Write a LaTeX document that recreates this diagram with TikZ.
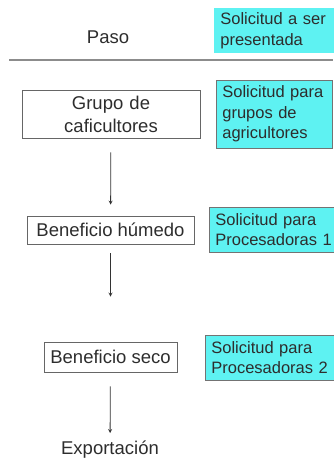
\documentclass[tikz,border=0pt]{standalone}
\usepackage{fontspec}
\setmainfont{Liberation Sans}
\usepackage{xcolor}
\usetikzlibrary{shapes,arrows,positioning,calc}
\definecolor{solcyan}{RGB}{94,242,242}
\definecolor{textgray}{RGB}{45,45,45}

\begin{document}
\begin{tikzpicture}[
    x=1pt, y=1pt,
    pasobox/.style={rectangle, draw=black!60, line width=0.7pt, text centered, inner sep=0pt, text=textgray, font=\fontsize{18.5}{23}\selectfont},
    solicitud/.style={rectangle, anchor=west, fill=solcyan, draw=black!55, line width=0.7pt, align=left, inner xsep=6pt, inner ysep=0pt, text=textgray, font=\fontsize{16.5}{20.5}\selectfont},
    plain/.style={text=textgray, inner sep=0pt, font=\fontsize{18.5}{23}\selectfont},
    arrow/.style={->, >=stealth, line width=0.8pt, black!80}
]
    \useasboundingbox (0,0) rectangle (333,-463);

    % encabezado
    \node[plain] (paso) at (108,-37) {Paso};
    \node[solicitud, draw=none, text width=130pt, minimum height=45pt] (solhead) at (214,-30.5) {Solicitud a ser\\presentada};
    \draw[black!45, line width=2pt] (9,-60) -- (333,-60);

    % pasos
    \node[pasobox, minimum width=178pt, minimum height=48pt, text width=170pt] (grupo) at (111,-114) {Grupo de\\caficultores};
    \node[pasobox, minimum width=167pt, minimum height=28pt] (humedo) at (110.5,-230) {Beneficio húmedo};
    \node[pasobox, minimum width=133pt, minimum height=30pt] (seco) at (110.5,-357) {Beneficio seco};
    \node[plain] (export) at (110,-450) {Exportación};

    % solicitudes
    \node[solicitud, text width=104pt, minimum height=68pt] (solgrupo) at (216,-114) {Solicitud para\\grupos de\\agricultores};
    \node[solicitud, text width=130pt, minimum height=45pt] (solhumedo) at (209,-229.5) {Solicitud para\\Procesadoras 1};
    \node[solicitud, text width=130pt, minimum height=45pt] (solseco) at (205,-357.5) {Solicitud para\\Procesadoras 2};

    \draw[arrow, shorten <=14pt, shorten >=11pt] (grupo) -- (humedo);
    \draw[arrow, shorten <=9pt, shorten >=45pt] (humedo) -- (seco);
    \draw[arrow, shorten <=14pt, shorten >=8pt] (seco) -- (export);
\end{tikzpicture}
\end{document}
